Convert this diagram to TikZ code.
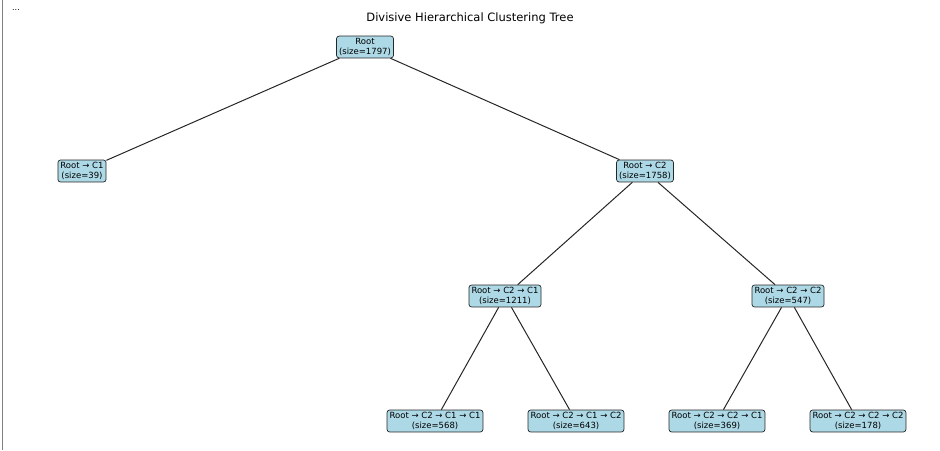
\documentclass[tikz,border=0pt]{standalone}
\usepackage{fontspec}
\setmainfont{DejaVu Sans}
\begin{document}
\begin{tikzpicture}[x=1pt,y=-1pt,
  box/.style={draw=black!85,fill=cyan!20!blue!10!white,fill=lightblue,rounded corners=2.5pt,font=\fontsize{8.5}{9.5}\selectfont,align=center,inner sep=2.5pt,line width=0.7pt},
  edge/.style={draw=black!85,line width=1pt}]
\definecolor{lightblue}{HTML}{ADD8E6}
\useasboundingbox (0,0) rectangle (940,450);
\draw[gray,line width=0.8pt] (2,0) -- (2,450);
\node (dots) at (16,10) {\fontsize{8}{8}\selectfont ...};
\node (title) at (470,18) {\fontsize{11.5}{13}\selectfont Divisive Hierarchical Clustering Tree};
\node[box] (r) at (365,47) {Root\\(size=1797)};
\node[box] (c1) at (82,171) {Root → C1\\(size=39)};
\node[box] (c2) at (645,171) {Root → C2\\(size=1758)};
\node[box] (c21) at (505,296) {Root → C2 → C1\\(size=1211)};
\node[box] (c22) at (788,296) {Root → C2 → C2\\(size=547)};
\node[box] (c211) at (435,421) {Root → C2 → C1 → C1\\(size=568)};
\node[box] (c212) at (576,421) {Root → C2 → C1 → C2\\(size=643)};
\node[box] (c221) at (717,421) {Root → C2 → C2 → C1\\(size=369)};
\node[box] (c222) at (858,421) {Root → C2 → C2 → C2\\(size=178)};
\draw[edge] (r) -- (c1);
\draw[edge] (r) -- (c2);
\draw[edge] (c2) -- (c21);
\draw[edge] (c2) -- (c22);
\draw[edge] (c21) -- (c211);
\draw[edge] (c21) -- (c212);
\draw[edge] (c22) -- (c221);
\draw[edge] (c22) -- (c222);
\end{tikzpicture}
\end{document}
